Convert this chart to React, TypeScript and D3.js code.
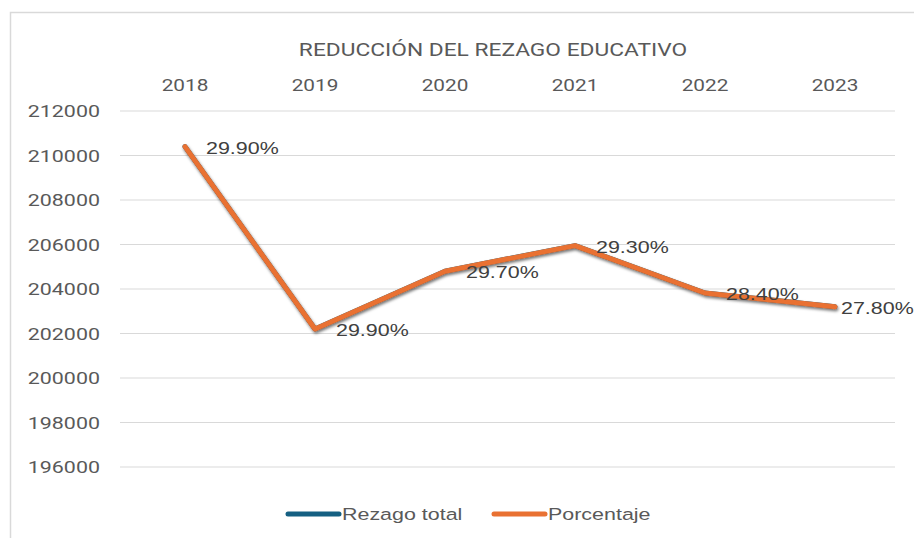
import React from "react";
import * as d3 from "d3";

const years = ["2018", "2019", "2020", "2021", "2022", "2023"];
const rezagoTotal = [210400, 202200, 204800, 205950, 203820, 203200];
const porcentaje = [29.9, 29.9, 29.7, 29.3, 28.4, 27.8];
const yTicks = [196000, 198000, 200000, 202000, 204000, 206000, 208000, 210000, 212000];
const title = "REDUCCIÓN DEL REZAGO EDUCATIVO";
const legendItems = [
  { name: "Rezago total", color: "#156082" },
  { name: "Porcentaje", color: "#E97132" },
];

const W = 914;
const H = 538;
const SX = 1.3;
const FONT = "'Liberation Sans', Arial, sans-serif";

function T({ x, y, children, anchor = "start", size = 16, fill = "#595959", family = FONT }: any) {
  return (
    <text
      transform={`translate(${x},${y}) scale(${SX},1)`}
      textAnchor={anchor}
      fontSize={size}
      fill={fill}
      fontFamily={family}
    >
      {children}
    </text>
  );
}

export default function App() {
  const x = d3.scaleBand<string>().domain(years).range([120, 900]);
  const y = d3.scaleLinear().domain([196000, 212000]).range([467, 111]);
  const cx = (d: string) => (x(d) as number) + x.bandwidth() / 2;
  const line = d3
    .line<number>()
    .x((_, i) => cx(years[i]))
    .y((d) => y(d));
  const path = line(rezagoTotal) as string;

  return (
    <svg
      width={W}
      height={H}
      style={{ position: "absolute", left: 0, top: 0, background: "#fff" }}
    >
      <defs>
        <filter id="sh" x="-10%" y="-10%" width="120%" height="130%">
          <feDropShadow dx="1" dy="2" stdDeviation="1.4" floodColor="#000" floodOpacity="0.55" />
        </filter>
      </defs>
      <rect x={10.5} y={12.5} width={W} height={H} fill="#fff" stroke="#d9d9d9" strokeWidth={1.5} />
      <T x={493} y={56} anchor="middle" size={17.5} family="Roboto, sans-serif">{title}</T>
      {years.map((yr) => (
        <T key={yr} x={cx(yr)} y={91} anchor="middle" size={16} family="Roboto, sans-serif">{yr}</T>
      ))}
      {yTicks.map((t) => (
        <g key={t}>
          <line x1={120} x2={895} y1={y(t)} y2={y(t)} stroke="#d9d9d9" strokeWidth={1.2} />
          <T x={100} y={y(t) + 6} anchor="end" size={16.5} family="Roboto, sans-serif">{t}</T>
        </g>
      ))}
      <path d={path} fill="none" stroke={legendItems[0].color} strokeWidth={5} strokeLinejoin="round" strokeLinecap="round" />
      <path d={path} fill="none" stroke={legendItems[1].color} strokeWidth={5} strokeLinejoin="round" strokeLinecap="round" filter="url(#sh)" />
      {rezagoTotal.map((v, i) => (
        <T key={i} x={Math.min(cx(years[i]) + 21, W - 73)} y={y(v) + 7} size={16.5} fill="#404040">
          {porcentaje[i].toFixed(2) + "%"}
        </T>
      ))}
      {legendItems.map((it, i) => {
        const lx = i === 0 ? 288 : 494;
        return (
          <g key={it.name}>
            <line x1={lx} x2={lx + 51} y1={514} y2={514} stroke={it.color} strokeWidth={5} strokeLinecap="round" />
            <T x={lx + 54} y={520} size={16.5} fill="#595959">{it.name}</T>
          </g>
        );
      })}
    </svg>
  );
}
